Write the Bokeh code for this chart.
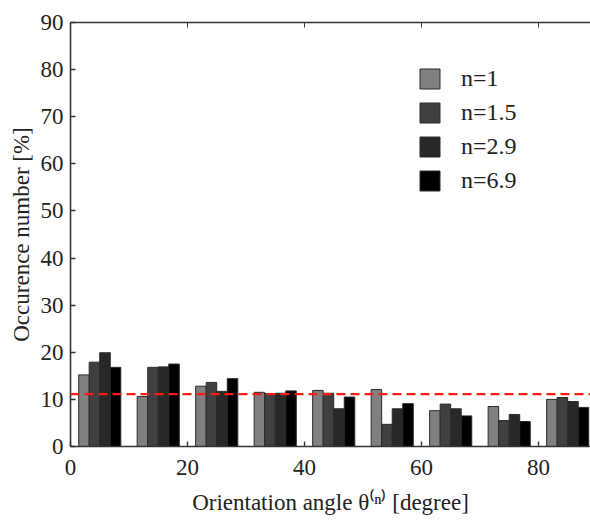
from bokeh.plotting import figure
from bokeh.models import ColumnDataSource, Range1d, LinearAxis, Span, Legend, LegendItem, FixedTicker
from bokeh.transform import dodge
from bokeh.embed import file_html
from bokeh.resources import INLINE

# data
angle_centers = [5, 15, 25, 35, 45, 55, 65, 75, 85]
n1 = [15.2, 10.6, 12.8, 11.5, 11.9, 12.1, 7.6, 8.5, 10.0]
n1_5 = [17.9, 16.8, 13.6, 11.25, 11.3, 4.7, 9.0, 5.5, 10.4]
n2_9 = [19.9, 16.9, 11.7, 11.3, 8.0, 8.0, 8.0, 6.8, 9.55]
n6_9 = [16.8, 17.5, 14.4, 11.8, 10.5, 9.1, 6.5, 5.3, 8.3]
series_labels = ["n=1", "n=1.5", "n=2.9", "n=6.9"]
uniform_level = 11.1
x_ticks = [0, 20, 40, 60, 80]
y_ticks = [0, 10, 20, 30, 40, 50, 60, 70, 80, 90]

src = ColumnDataSource(dict(x=angle_centers, a=n1, b=n1_5, c=n2_9, d=n6_9))

FONT = "Times New Roman"
p = figure(width=590, height=521, output_backend="svg", toolbar_location=None,
           x_range=Range1d(0, 88.9), y_range=Range1d(0, 90),
           min_border_left=70, min_border_right=0, min_border_top=22, min_border_bottom=75)
p.grid.visible = False
p.outline_line_color = None
p.background_fill_color = "white"

colors = ["#808080", "#404040", "#282828", "#000000"]
cols = ["a", "b", "c", "d"]
offsets = [-2.7, -0.9, 0.9, 2.7]
renderers = []
for col, off, c in zip(cols, offsets, colors):
    r = p.vbar(x=dodge("x", off, range=p.x_range), top=col, width=1.8, bottom=0,
               source=src, fill_color=c, line_color="#2a2a2a", line_width=1)
    renderers.append(r)

p.add_layout(Span(location=uniform_level, dimension="width", line_color="#ff1a1a",
                  line_dash="9 5", line_width=2.2))

for ax in [p.xaxis[0], p.yaxis[0]]:
    ax.axis_line_color = "#333333"
    ax.axis_line_width = 1.6
    ax.major_tick_in = 5
    ax.major_tick_out = 0
    ax.minor_tick_line_color = None
    ax.major_tick_line_color = "#333333"
    ax.major_tick_line_width = 1.4
    ax.major_label_text_font = FONT
    ax.major_label_text_font_size = "23px"
    ax.major_label_text_color = "#222222"
    ax.axis_label_text_font = FONT
    ax.axis_label_text_font_size = "23px"
    ax.axis_label_text_font_style = "normal"
    ax.axis_label_text_color = "#222222"

p.xaxis[0].ticker = FixedTicker(ticks=x_ticks)
p.yaxis[0].ticker = FixedTicker(ticks=y_ticks)
p.xaxis[0].axis_label = "Orientation angle θ⁽ⁿ⁾ [degree]"
p.yaxis[0].axis_label = "Occurence number [%]"
p.xaxis[0].major_label_standoff = 13
p.yaxis[0].major_label_standoff = 7
p.xaxis[0].axis_label_standoff = 12
p.yaxis[0].axis_label_standoff = 4

top = LinearAxis(ticker=FixedTicker(ticks=x_ticks))
top.axis_line_color = "#333333"
top.axis_line_width = 1.6
top.major_tick_in = 5
top.major_tick_out = 0
top.minor_tick_line_color = None
top.major_tick_line_color = "#333333"
top.major_label_overrides = {t: "" for t in x_ticks}
top.major_label_standoff = 0
p.add_layout(top, "above")

items = [LegendItem(label=l, renderers=[r]) for l, r in zip(series_labels, renderers)]
legend = Legend(items=items, location=(347, 252), border_line_color=None,
                background_fill_alpha=0, padding=0, margin=0, spacing=7,
                glyph_width=25, glyph_height=25, label_height=25, label_standoff=19,
                label_text_font=FONT, label_text_font_size="24px", label_text_color="#222222")
p.add_layout(legend, "center")

open("out.html", "w").write(file_html(p, INLINE))
